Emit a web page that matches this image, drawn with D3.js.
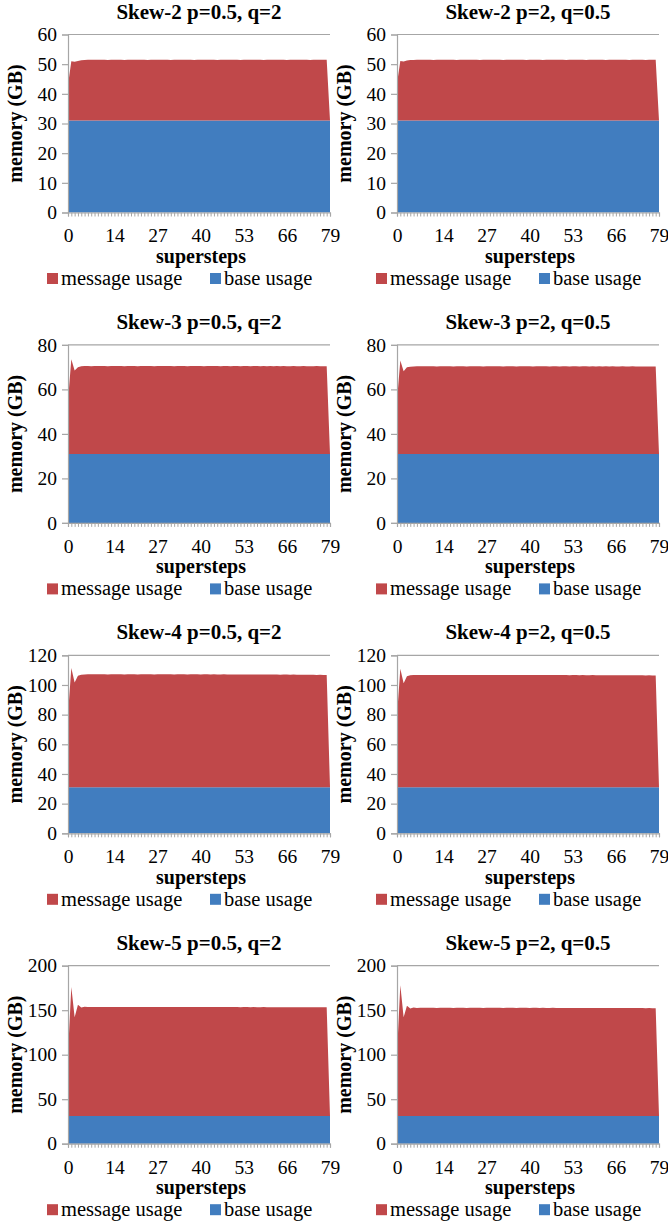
<!DOCTYPE html>
<html>
<head>
<meta charset="utf-8">
<script src="https://cdn.jsdelivr.net/npm/d3@7"></script>
<style>
  html, body { margin: 0; padding: 0; background: #ffffff; }
</style>
</head>
<body>
<div id="chart"></div>
<script>
// ---------- data ----------
const titles = [
  "Skew-2 p=0.5, q=2", "Skew-2 p=2, q=0.5",
  "Skew-3 p=0.5, q=2", "Skew-3 p=2, q=0.5",
  "Skew-4 p=0.5, q=2", "Skew-4 p=2, q=0.5",
  "Skew-5 p=0.5, q=2", "Skew-5 p=2, q=0.5"
];
const seriesNames = ["message usage", "base usage"];
const xTickLabels = [0, 14, 27, 40, 53, 66, 79];
const yMaxes = [60, 60, 80, 80, 120, 120, 200, 200];
const ySteps = [10, 10, 20, 20, 20, 20, 50, 50];

// base usage (GB) per superstep, same for every run
const baseUsage = [
  31, 31, 31, 31, 31, 31, 31, 31, 31, 31,
  31, 31, 31, 31, 31, 31, 31, 31, 31, 31,
  31, 31, 31, 31, 31, 31, 31, 31, 31, 31,
  31, 31, 31, 31, 31, 31, 31, 31, 31, 31,
  31, 31, 31, 31, 31, 31, 31, 31, 31, 31,
  31, 31, 31, 31, 31, 31, 31, 31, 31, 31,
  31, 31, 31, 31, 31, 31, 31, 31, 31, 31,
  31, 31, 31, 31, 31, 31, 31, 31, 31, 31
];

// message usage (GB) per superstep
const msgSkew2Left = [
  12.0, 20.0, 19.8, 20.1, 20.3, 20.4, 20.5, 20.5, 20.5, 20.5,
  20.5, 20.5, 20.4, 20.5, 20.5, 20.5, 20.5, 20.4, 20.5, 20.5,
  20.5, 20.5, 20.5, 20.5, 20.4, 20.5, 20.5, 20.5, 20.5, 20.5,
  20.5, 20.4, 20.5, 20.5, 20.5, 20.5, 20.5, 20.5, 20.4, 20.5,
  20.5, 20.5, 20.5, 20.5, 20.5, 20.4, 20.5, 20.5, 20.5, 20.5,
  20.5, 20.5, 20.4, 20.5, 20.5, 20.5, 20.5, 20.5, 20.5, 20.4,
  20.5, 20.5, 20.5, 20.5, 20.5, 20.5, 20.4, 20.5, 20.5, 20.5,
  20.5, 20.5, 20.5, 20.4, 20.5, 20.5, 20.5, 20.5, 20.5, 0.0
];
const msgSkew2Right = [
  12.5, 20.1, 19.9, 20.2, 20.4, 20.4, 20.5, 20.5, 20.5, 20.5,
  20.5, 20.4, 20.5, 20.5, 20.5, 20.5, 20.5, 20.5, 20.4, 20.5,
  20.5, 20.5, 20.5, 20.5, 20.5, 20.4, 20.5, 20.5, 20.5, 20.5,
  20.5, 20.5, 20.4, 20.5, 20.5, 20.5, 20.5, 20.5, 20.5, 20.4,
  20.5, 20.5, 20.5, 20.5, 20.4, 20.5, 20.5, 20.5, 20.5, 20.5,
  20.5, 20.4, 20.5, 20.5, 20.5, 20.5, 20.5, 20.4, 20.5, 20.5,
  20.5, 20.5, 20.5, 20.4, 20.5, 20.5, 20.5, 20.5, 20.5, 20.5,
  20.4, 20.5, 20.5, 20.5, 20.5, 20.4, 20.5, 20.5, 20.5, 0.0
];
const msgSkew3Left = [
  24.0, 42.5, 37.5, 39.0, 39.4, 39.5, 39.5, 39.4, 39.5, 39.5,
  39.5, 39.5, 39.4, 39.5, 39.5, 39.5, 39.5, 39.4, 39.5, 39.5,
  39.5, 39.4, 39.5, 39.5, 39.5, 39.5, 39.4, 39.5, 39.5, 39.5,
  39.5, 39.5, 39.4, 39.5, 39.5, 39.5, 39.4, 39.5, 39.5, 39.5,
  39.5, 39.4, 39.5, 39.5, 39.5, 39.5, 39.4, 39.5, 39.5, 39.4,
  39.5, 39.5, 39.4, 39.5, 39.5, 39.4, 39.5, 39.5, 39.4, 39.5,
  39.4, 39.5, 39.4, 39.5, 39.4, 39.5, 39.4, 39.4, 39.5, 39.4,
  39.4, 39.5, 39.4, 39.4, 39.4, 39.5, 39.4, 39.4, 39.4, 0.0
];
const msgSkew3Right = [
  24.0, 42.0, 37.2, 38.9, 39.2, 39.3, 39.4, 39.4, 39.4, 39.4,
  39.4, 39.4, 39.3, 39.4, 39.4, 39.4, 39.4, 39.3, 39.4, 39.4,
  39.4, 39.3, 39.4, 39.4, 39.4, 39.4, 39.3, 39.4, 39.4, 39.4,
  39.4, 39.4, 39.3, 39.4, 39.4, 39.4, 39.3, 39.4, 39.4, 39.4,
  39.4, 39.3, 39.4, 39.4, 39.4, 39.4, 39.3, 39.4, 39.4, 39.3,
  39.4, 39.4, 39.3, 39.4, 39.4, 39.3, 39.4, 39.4, 39.3, 39.4,
  39.3, 39.4, 39.3, 39.4, 39.3, 39.4, 39.3, 39.3, 39.4, 39.3,
  39.3, 39.4, 39.3, 39.3, 39.3, 39.3, 39.3, 39.3, 39.3, 0.0
];
const msgSkew4Left = [
  49.0, 80.5, 70.6, 75.2, 75.9, 76.1, 76.2, 76.2, 76.2, 76.2,
  76.2, 76.2, 76.1, 76.2, 76.2, 76.2, 76.2, 76.1, 76.2, 76.2,
  76.2, 76.1, 76.2, 76.2, 76.2, 76.2, 76.1, 76.2, 76.2, 76.2,
  76.2, 76.2, 76.1, 76.2, 76.2, 76.2, 76.1, 76.2, 76.2, 76.2,
  76.1, 76.2, 76.2, 76.1, 76.2, 76.1, 76.1, 76.2, 76.1, 76.1,
  76.1, 76.1, 76.0, 76.1, 76.1, 76.0, 76.1, 76.0, 76.0, 76.1,
  76.0, 76.0, 76.0, 76.0, 75.9, 76.0, 76.0, 75.9, 76.0, 75.9,
  75.9, 75.9, 75.9, 75.9, 75.9, 75.8, 75.9, 75.8, 75.8, 0.0
];
const msgSkew4Right = [
  48.0, 80.0, 70.2, 74.8, 75.5, 75.7, 75.8, 75.8, 75.8, 75.8,
  75.8, 75.8, 75.7, 75.8, 75.8, 75.8, 75.8, 75.7, 75.8, 75.8,
  75.8, 75.7, 75.8, 75.8, 75.8, 75.8, 75.7, 75.8, 75.8, 75.8,
  75.8, 75.8, 75.7, 75.8, 75.8, 75.8, 75.7, 75.8, 75.8, 75.8,
  75.7, 75.8, 75.8, 75.7, 75.8, 75.7, 75.7, 75.8, 75.7, 75.7,
  75.7, 75.7, 75.6, 75.7, 75.7, 75.6, 75.7, 75.6, 75.6, 75.7,
  75.6, 75.6, 75.6, 75.6, 75.5, 75.6, 75.6, 75.5, 75.6, 75.5,
  75.5, 75.5, 75.5, 75.5, 75.5, 75.4, 75.5, 75.4, 75.4, 0.0
];
const msgSkew5Left = [
  70.0, 145.0, 111.0, 125.0, 122.0, 123.0, 122.5, 122.6, 122.6, 122.6,
  122.6, 122.6, 122.5, 122.6, 122.6, 122.6, 122.6, 122.5, 122.6, 122.6,
  122.6, 122.5, 122.6, 122.6, 122.6, 122.6, 122.5, 122.6, 122.6, 122.6,
  122.6, 122.6, 122.5, 122.6, 122.6, 122.6, 122.5, 122.6, 122.6, 122.6,
  122.5, 122.6, 122.6, 122.5, 122.6, 122.5, 122.5, 122.6, 122.5, 122.5,
  122.5, 122.5, 122.4, 122.5, 122.5, 122.4, 122.5, 122.4, 122.4, 122.5,
  122.4, 122.4, 122.4, 122.4, 122.3, 122.4, 122.4, 122.3, 122.4, 122.3,
  122.3, 122.3, 122.3, 122.3, 122.3, 122.2, 122.3, 122.2, 122.2, 0.0
];
const msgSkew5Right = [
  70.0, 147.0, 111.0, 124.0, 121.0, 122.0, 121.6, 121.7, 121.7, 121.7,
  121.7, 121.7, 121.6, 121.7, 121.7, 121.7, 121.7, 121.6, 121.7, 121.7,
  121.7, 121.6, 121.7, 121.7, 121.7, 121.7, 121.6, 121.7, 121.7, 121.7,
  121.7, 121.7, 121.6, 121.7, 121.7, 121.7, 121.6, 121.7, 121.7, 121.7,
  121.6, 121.7, 121.7, 121.6, 121.7, 121.6, 121.6, 121.7, 121.6, 121.6,
  121.6, 121.6, 121.5, 121.6, 121.6, 121.5, 121.6, 121.5, 121.5, 121.6,
  121.5, 121.5, 121.5, 121.5, 121.4, 121.5, 121.5, 121.4, 121.5, 121.4,
  121.4, 121.4, 121.4, 121.4, 121.4, 121.3, 121.4, 121.3, 121.3, 0.0
];
const messageSeries = [
  msgSkew2Left, msgSkew2Right, msgSkew3Left, msgSkew3Right,
  msgSkew4Left, msgSkew4Right, msgSkew5Left, msgSkew5Right
];

// ---------- drawing ----------
const W = 668, H = 1224;
const FONT = "'Liberation Serif', 'Times New Roman', Tinos, serif";
const colorMsg = "#C0484A", colorBase = "#417DBF", axisColor = "#A6A6A6";
const svg = d3.select("#chart").append("svg").attr("width", W).attr("height", H);

const colStep = 329, rowStep = 310.4;

titles.forEach((title, i) => {
  const col = i % 2, row = Math.floor(i / 2);
  const ox = col * colStep, oy = row * rowStep;
  const left = 68 + ox, right = 330 + ox, top = 34.5 + oy, bottom = 212.5 + oy;
  const g = svg.append("g");

  const msg = messageSeries[i];
  const rows = baseUsage.map((b, k) => ({ step: k, base: b, message: msg[k] }));
  const x = d3.scaleLinear().domain([0, rows.length - 1]).range([left, right]);
  const y = d3.scaleLinear().domain([0, yMaxes[i]]).range([bottom, top]);

  const stack = d3.stack().keys(["base", "message"]);
  const layers = stack(rows);
  const area = d3.area().x(d => x(d.data.step)).y0(d => y(d[0])).y1(d => y(d[1]));
  g.selectAll("path.layer").data(layers).enter().append("path")
    .attr("class", "layer")
    .attr("d", area)
    .attr("fill", (d, k) => k === 0 ? colorBase : colorMsg);

  // y axis
  const yTicks = d3.range(0, yMaxes[i] + 0.001, ySteps[i]);
  const yAxis = d3.axisLeft(y).tickValues(yTicks).tickSize(6).tickPadding(5).tickFormat(d3.format("d"));
  const ya = g.append("g").attr("transform", `translate(${left},0)`).call(yAxis);
  ya.select(".domain").attr("stroke", axisColor).attr("stroke-width", 1.2);
  ya.selectAll(".tick line").attr("stroke", axisColor).attr("stroke-width", 1.2);
  ya.selectAll(".tick text").attr("font-size", 19.5);

  // top border line at max value
  g.append("line").attr("x1", left).attr("x2", right).attr("y1", y(yMaxes[i])).attr("y2", y(yMaxes[i]))
    .attr("stroke", axisColor).attr("stroke-width", 1.2);

  // x axis: a tick at every superstep, labels at selected steps
  const xMinor = d3.axisBottom(x).tickValues(rows.map(r => r.step)).tickSize(4).tickFormat("");
  const xm = g.append("g").attr("transform", `translate(0,${bottom})`).call(xMinor);
  xm.select(".domain").attr("stroke", axisColor).attr("stroke-width", 1.2);
  xm.selectAll(".tick line").attr("stroke", axisColor).attr("stroke-width", 1);

  const xLab = d3.axisBottom(x).tickValues(xTickLabels).tickSize(0).tickPadding(16).tickFormat(d3.format("d"));
  const xl = g.append("g").attr("transform", `translate(0,${bottom})`).call(xLab);
  xl.select(".domain").remove();
  xl.selectAll(".tick text").attr("font-size", 19.5);

  // title
  g.append("text").attr("x", (left + right) / 2).attr("y", oy + 18.5)
    .attr("text-anchor", "middle").attr("font-size", 21).attr("font-weight", "bold").text(title);

  // axis titles
  g.append("text").attr("transform", `translate(${ox + 21.5},${(top + bottom) / 2}) rotate(-90)`)
    .attr("text-anchor", "middle").attr("font-size", 20).attr("font-weight", "bold").text("memory (GB)");
  g.append("text").attr("x", (left + right) / 2 + 2).attr("y", oy + 263)
    .attr("text-anchor", "middle").attr("font-size", 20).attr("font-weight", "bold").text("supersteps");

  // legend
  const legendX = [ox + 47, ox + 210];
  const legendColors = [colorMsg, colorBase];
  seriesNames.forEach((name, k) => {
    g.append("rect").attr("x", legendX[k]).attr("y", oy + 273).attr("width", 11).attr("height", 11)
      .attr("fill", legendColors[k]);
    g.append("text").attr("x", legendX[k] + 14).attr("y", oy + 285)
      .attr("font-size", 20.5).text(name);
  });
});

// serif font on every text, overriding the axis defaults
svg.selectAll("g").attr("font-family", null);
svg.selectAll("text").style("font-family", FONT).style("fill", "#000");
</script>
</body>
</html>
